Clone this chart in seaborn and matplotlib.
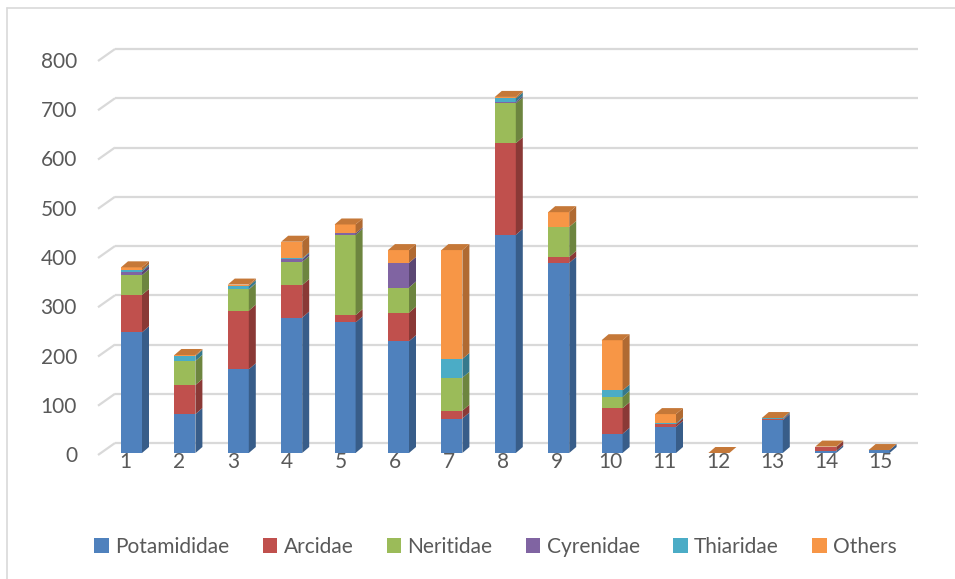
import numpy as np
import pandas as pd
import matplotlib
matplotlib.use("Agg")
import matplotlib.pyplot as plt
from matplotlib.patches import Polygon, Patch
from matplotlib.lines import Line2D
import seaborn as sns

# ---- data -------------------------------------------------------------
sites = list(range(1, 16))
families = ["Potamididae", "Arcidae", "Neritidae", "Cyrenidae", "Thiaridae", "Others"]
potamididae = [245, 79, 170, 275, 265, 227, 70, 443, 386, 39, 53, 0, 67, 4, 6]
arcidae = [76, 59, 119, 66, 15, 58, 16, 186, 12, 52, 5, 0, 2, 8, 0]
neritidae = [40, 49, 43, 47, 163, 51, 67, 81, 61, 23, 0, 0, 0, 0, 0]
cyrenidae = [7, 0, 1, 5, 3, 50, 0, 3, 0, 0, 0, 0, 0, 0, 0]
thiaridae = [3, 10, 6, 2, 0, 0, 38, 7, 0, 13, 2, 0, 2, 0, 0]
others = [6, 2, 3, 34, 18, 26, 221, 3, 30, 102, 19, 0, 0, 1, 0]
y_ticks = [0, 100, 200, 300, 400, 500, 600, 700, 800]

counts = pd.DataFrame(
    {"Potamididae": potamididae, "Arcidae": arcidae, "Neritidae": neritidae,
     "Cyrenidae": cyrenidae, "Thiaridae": thiaridae, "Others": others},
    index=sites,
)
tops = counts.cumsum(axis=1)
bottoms = tops - counts

# ---- style ------------------------------------------------------------
front = {"Potamididae": "#4F81BD", "Arcidae": "#C0504D", "Neritidae": "#9BBB59",
         "Cyrenidae": "#8064A2", "Thiaridae": "#4BACC6", "Others": "#F79646"}
side = {"Potamididae": "#385D89", "Arcidae": "#8A3936", "Neritidae": "#6D853F",
        "Cyrenidae": "#5B4773", "Thiaridae": "#35798C", "Others": "#B06A32"}
top_face = "#C57838"
grid_c = "#D9D9D9"
text_c = "#595959"

sns.set_theme(style="white")
plt.rcParams["font.family"] = ["Lato", "DejaVu Sans"]

W_PX, H_PX = 955, 579
X1_PX, PITCH_PX = 131.5, 53.4          # pixel centre of site 1, spacing
Y0_PX, PX_PER_UNIT = 453.0, 0.4925      # baseline of the bar plane, scale

fig = plt.figure(figsize=(W_PX / 100, H_PX / 100), dpi=100)
ax = fig.add_axes([0, 0, 1, 1])

def px_x(dpx):
    return dpx / PITCH_PX

def px_y(dpx):
    return dpx / PX_PER_UNIT

BAR_W = px_x(21)
DEPTH_DX, DEPTH_DY = px_x(7), px_y(6)          # bar depth
WALL_DY = px_y(10)                             # back wall above the bar plane
FLOOR_DX, FLOOR_DY = px_x(-33.5), px_y(-2)     # front-left edge

# back wall gridlines with their slanted left ends
wall_left = 1 + px_x(115 - X1_PX)
wall_right = 1 + px_x(918 - X1_PX)
for v in y_ticks:
    ax.plot([wall_left, wall_right], [v + WALL_DY, v + WALL_DY],
            color=grid_c, lw=1.6, zorder=0, solid_capstyle="butt")
    ax.plot([1 + FLOOR_DX, wall_left], [v + FLOOR_DY, v + WALL_DY],
            color=grid_c, lw=1.6, zorder=0, solid_capstyle="butt")
    ax.text(1 + px_x(77 - X1_PX), v + FLOOR_DY - px_y(1), f"{v}",
            ha="right", va="center", fontsize=15, color=text_c)

# front faces: cumulative totals drawn from the top series down
for fam in families[::-1]:
    sns.barplot(x=sites, y=tops[fam].values, orient="x", native_scale=True,
                width=BAR_W, color=front[fam], saturation=1, linewidth=0,
                ax=ax, zorder=2)

# side faces of every segment and the top face of each column
for s in sites:
    xr = s + BAR_W / 2
    xl = s - BAR_W / 2
    for fam in families:
        b, t = bottoms.loc[s, fam], tops.loc[s, fam]
        if t > b:
            ax.add_patch(Polygon([(xr, b), (xr + DEPTH_DX, b + DEPTH_DY),
                                  (xr + DEPTH_DX, t + DEPTH_DY), (xr, t)],
                                 closed=True, facecolor=side[fam],
                                 edgecolor="none", zorder=3))
    T = tops.loc[s, "Others"]
    ax.add_patch(Polygon([(xl, T), (xl + DEPTH_DX, T + DEPTH_DY),
                          (xr + DEPTH_DX, T + DEPTH_DY), (xr, T)],
                         closed=True, facecolor=top_face, edgecolor="none",
                         zorder=4))
    # category labels sit on the front floor edge, drifting with perspective
    ax.text(s - 0.12 + 0.01 * (s - 1), px_y(453 - 462), str(s),
            ha="center", va="center", fontsize=15, color=text_c)

ax.set_xlim(1 + px_x(0 - X1_PX), 1 + px_x(W_PX - X1_PX))
ax.set_ylim(px_y(Y0_PX - H_PX), px_y(Y0_PX))
ax.axis("off")

# chart frame
fig.add_artist(Line2D([7 / W_PX, 7 / W_PX], [0, 1 - 8 / H_PX],
                      transform=fig.transFigure, color=grid_c, lw=1.2))
fig.add_artist(Line2D([7 / W_PX, 1], [1 - 8 / H_PX, 1 - 8 / H_PX],
                      transform=fig.transFigure, color=grid_c, lw=1.2))

handles = [Patch(facecolor=front[f], edgecolor="none") for f in families]
fig.legend(handles, families, loc="center",
           bbox_to_anchor=(495.5 / W_PX, 1 - 547 / H_PX), ncol=6,
           frameon=False, fontsize=15, labelcolor=text_c,
           handlelength=0.7, handleheight=0.7, handletextpad=0.3,
           columnspacing=1.6)

fig.savefig("out.png", dpi=100)
